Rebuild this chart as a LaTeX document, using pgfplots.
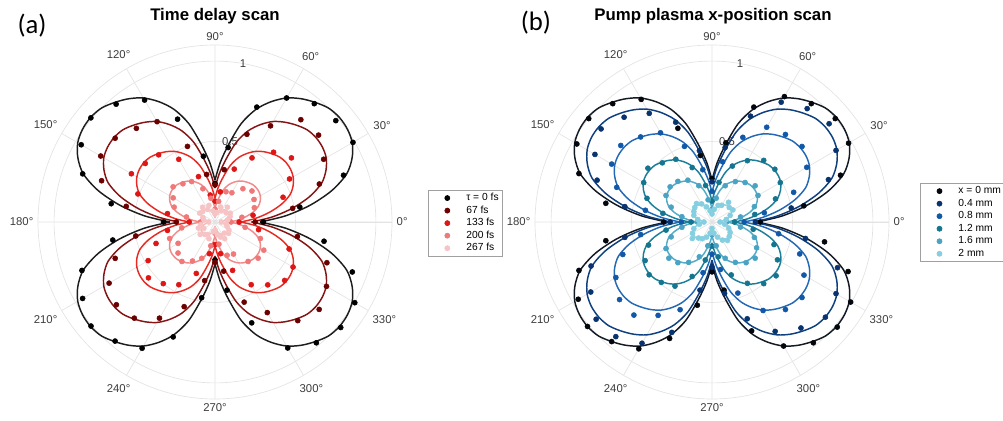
\documentclass[border=0pt]{standalone}
\usepackage{fontspec}
\setmainfont{Liberation Sans}
\newfontfamily\carlito{Carlito}
\usepackage{pgfplots}
\usepackage{pgfplotstable}
\pgfplotsset{compat=1.18}
\usepgfplotslibrary{polar}

\definecolor{gridc}{HTML}{E3E3E3}
\definecolor{tickc}{HTML}{3C3C3C}
\definecolor{legc}{HTML}{A0A0A0}
\definecolor{aK}{HTML}{000000}\definecolor{aKl}{HTML}{1E1E1E}
\definecolor{aD}{HTML}{6A0000}\definecolor{aDl}{HTML}{861414}
\definecolor{aR}{HTML}{E01515}\definecolor{aRl}{HTML}{E82A22}
\definecolor{aS}{HTML}{F07878}\definecolor{aSl}{HTML}{F28A8A}
\definecolor{aP}{HTML}{F7C4C6}\definecolor{aPl}{HTML}{F5B9BB}
\definecolor{bK}{HTML}{03060C}\definecolor{bKl}{HTML}{141A24}
\definecolor{bN}{HTML}{08336E}\definecolor{bNl}{HTML}{0E3F7E}
\definecolor{bM}{HTML}{1258A8}\definecolor{bMl}{HTML}{2469B6}
\definecolor{bT}{HTML}{15758F}\definecolor{bTl}{HTML}{1C7F99}
\definecolor{bL}{HTML}{4AA3C2}\definecolor{bLl}{HTML}{52ABC8}
\definecolor{bC}{HTML}{86CFE0}\definecolor{bCl}{HTML}{8ED3E3}

% fitted curves, one quadrant of angles per column p1..p4
\pgfplotstableread{
p1 p2 p3 p4 bk dr rd sa pk n4 n8 t12 t16 c2
0 180 180 360 0.280 0.227 0.160 0.092 0.028 0.255 0.199 0.140 0.092 0.039
5 175 185 355 0.440 0.356 0.251 0.145 0.044 0.400 0.312 0.220 0.145 0.062
10 170 190 350 0.600 0.486 0.342 0.198 0.060 0.546 0.426 0.300 0.198 0.084
15 165 195 345 0.750 0.608 0.428 0.248 0.075 0.683 0.533 0.375 0.248 0.105
20 160 200 340 0.870 0.705 0.496 0.287 0.087 0.792 0.618 0.435 0.287 0.122
25 155 205 335 0.940 0.761 0.536 0.310 0.094 0.855 0.667 0.470 0.310 0.132
30 150 210 330 0.985 0.798 0.561 0.325 0.099 0.896 0.699 0.493 0.325 0.138
35 145 215 325 1.005 0.814 0.573 0.332 0.101 0.915 0.714 0.503 0.332 0.141
40 140 220 320 1.010 0.818 0.576 0.333 0.101 0.919 0.717 0.505 0.333 0.141
45 135 225 315 1.000 0.810 0.570 0.330 0.100 0.910 0.710 0.500 0.330 0.140
50 130 230 310 0.970 0.786 0.553 0.320 0.097 0.883 0.689 0.485 0.320 0.136
55 125 235 305 0.935 0.757 0.533 0.309 0.094 0.851 0.664 0.468 0.309 0.131
60 120 240 300 0.890 0.721 0.507 0.294 0.089 0.810 0.632 0.445 0.294 0.125
65 115 245 295 0.825 0.668 0.470 0.272 0.083 0.751 0.586 0.413 0.272 0.116
70 110 250 290 0.745 0.603 0.425 0.246 0.075 0.678 0.529 0.373 0.246 0.104
75 105 255 285 0.635 0.514 0.362 0.210 0.064 0.578 0.451 0.318 0.210 0.089
80 100 260 280 0.490 0.397 0.279 0.162 0.049 0.446 0.348 0.245 0.162 0.069
85 95 265 275 0.370 0.300 0.211 0.122 0.037 0.337 0.263 0.185 0.122 0.052
90 90 270 270 0.260 0.211 0.148 0.086 0.026 0.237 0.185 0.130 0.086 0.036
}\curves

\pgfplotstableread{
th a0 a67 a133 a200 a267
0 0.300 0.25 0.15 0.10 0.04
10 0.535 0.49 0.24 0.17 0.08
20 0.850 0.69 0.45 0.26 0.10
30 0.990 0.78 0.535 0.28 0.11
40 0.980 0.84 0.62 0.30 0.09
50 0.960 0.83 0.566 0.27 0.12
60 0.890 0.69 0.46 0.21 0.08
70 0.760 0.58 0.35 0.20 0.10
80 0.470 0.33 0.19 0.13 0.06
90 0.240 0.23 0.13 0.08 0.05
100 0.415 0.30 0.17 0.15 0.07
110 0.680 0.50 0.30 0.22 0.11
120 0.875 0.72 0.45 0.29 0.09
130 0.956 0.76 0.545 0.31 0.12
140 1.007 0.81 0.566 0.34 0.10
150 0.960 0.82 0.60 0.30 0.11
160 0.875 0.75 0.51 0.27 0.08
170 0.655 0.56 0.30 0.18 0.07
180 0.320 0.24 0.16 0.09 0.04
190 0.645 0.50 0.30 0.21 0.09
200 0.880 0.66 0.39 0.30 0.11
210 0.950 0.76 0.48 0.265 0.08
220 1.006 0.80 0.54 0.30 0.12
230 0.966 0.78 0.50 0.32 0.10
240 0.906 0.69 0.45 0.28 0.09
250 0.760 0.56 0.34 0.24 0.11
260 0.478 0.37 0.20 0.15 0.06
270 0.235 0.25 0.14 0.07 0.05
280 0.430 0.31 0.20 0.14 0.08
290 0.667 0.53 0.32 0.22 0.10
300 0.904 0.65 0.45 0.23 0.12
310 0.980 0.80 0.51 0.32 0.09
320 1.020 0.845 0.565 0.35 0.11
330 1.003 0.80 0.56 0.35 0.10
340 0.908 0.74 0.49 0.30 0.08
350 0.688 0.52 0.275 0.19 0.07
}\dotsA

\pgfplotstableread{
th b0 b04 b08 b12 b16 b20
0 0.30 0.27 0.20 0.14 0.09 0.05
10 0.58 0.50 0.33 0.27 0.18 0.09
20 0.85 0.77 0.54 0.42 0.28 0.12
30 0.98 0.89 0.68 0.49 0.33 0.15
40 1.00 0.95 0.73 0.51 0.35 0.14
50 0.96 0.92 0.71 0.50 0.32 0.16
60 0.90 0.86 0.68 0.44 0.29 0.12
70 0.76 0.70 0.56 0.37 0.24 0.11
80 0.50 0.47 0.38 0.25 0.15 0.08
90 0.27 0.25 0.19 0.13 0.08 0.05
100 0.42 0.45 0.33 0.23 0.14 0.07
110 0.62 0.66 0.50 0.36 0.24 0.10
120 0.88 0.78 0.64 0.45 0.30 0.13
130 0.96 0.85 0.69 0.48 0.33 0.15
140 1.00 0.90 0.74 0.52 0.34 0.14
150 0.97 0.84 0.72 0.49 0.33 0.13
160 0.88 0.76 0.63 0.43 0.27 0.12
170 0.67 0.55 0.42 0.31 0.19 0.09
180 0.30 0.26 0.19 0.13 0.09 0.05
190 0.67 0.55 0.45 0.29 0.19 0.08
200 0.88 0.80 0.59 0.42 0.27 0.12
210 0.96 0.87 0.69 0.48 0.33 0.14
220 1.01 0.94 0.75 0.51 0.35 0.16
230 0.97 0.93 0.755 0.49 0.33 0.13
240 0.91 0.87 0.67 0.46 0.29 0.12
250 0.77 0.73 0.58 0.36 0.23 0.10
260 0.525 0.43 0.32 0.24 0.15 0.07
270 0.31 0.28 0.20 0.15 0.08 0.04
280 0.43 0.45 0.30 0.22 0.15 0.07
290 0.72 0.64 0.47 0.35 0.24 0.10
300 0.89 0.785 0.635 0.44 0.29 0.13
310 0.98 0.86 0.71 0.50 0.33 0.15
320 1.016 0.92 0.73 0.52 0.35 0.14
330 0.995 0.89 0.66 0.47 0.32 0.13
340 0.90 0.83 0.58 0.41 0.28 0.11
350 0.71 0.59 0.42 0.26 0.18 0.08
}\dotsB

\pgfplotsset{
  myaxis/.style={
    scale only axis, width=265.5pt, height=265.5pt,
    anchor=center,
    ymin=0, ymax=1.1,
    xtick={0,30,...,330},
    ytick={0.5,1},
    yticklabels={},
    grid=major,
    major grid style={draw=gridc, line width=0.5pt},
    axis line style={draw=gridc, line width=0.5pt},
    tick style={draw=none},
    /pgf/number format/assume math mode=true,
    xticklabel={\pgfmathprintnumber{\tick}°},
    xticklabel style={font=\fontsize{8.5}{10}\selectfont, text=tickc},
    legend cell align=left,
    legend style={anchor=north west, draw=legc, line width=0.5pt,
      font=\fontsize{7.7}{9.4}\selectfont, inner xsep=2pt, inner ysep=1.1pt,
      row sep=0pt, nodes={inner sep=1pt, text height=5.6pt, text depth=1.8pt}},
    legend image code/.code={\path (0pt,0pt) (25pt,0pt); \draw[##1] plot coordinates {(12pt,0pt)};},
  },
  crv/.style={smooth, line width=1.1pt, no markers, forget plot},
  dts/.style={only marks, mark=*, mark size=1.9pt},
}

\newcommand{\lobes}[2]{%
  \addplot[crv,#1] table[x=p1,y=#2]{\curves};
  \addplot[crv,#1] table[x=p2,y=#2]{\curves};
  \addplot[crv,#1] table[x=p3,y=#2]{\curves};
  \addplot[crv,#1] table[x=p4,y=#2]{\curves};}

\begin{document}
\begin{tikzpicture}
\useasboundingbox (0,0) rectangle (752.25pt,-315.75pt);

\begin{polaraxis}[myaxis, at={(161.25pt,-166.5pt)},
   legend style={at={(1.1017,0.5904)}}]
  \node[font=\fontsize{8.5}{10}\selectfont, text=tickc] at (axis cs:79.4,0.51) {0.5};
  \node[font=\fontsize{8.5}{10}\selectfont, text=tickc] at (axis cs:80,1.0) {1};
  \lobes{aKl}{bk}
  \addplot[dts, aK] table[x=th,y=a0]{\dotsA}; \addlegendentry{τ = 0 fs}
  \lobes{aDl}{dr}
  \addplot[dts, aD] table[x=th,y=a67]{\dotsA}; \addlegendentry{67 fs}
  \lobes{aRl}{rd}
  \addplot[dts, aR] table[x=th,y=a133]{\dotsA}; \addlegendentry{133 fs}
  \lobes{aSl}{sa}
  \addplot[dts, aS] table[x=th,y=a200]{\dotsA}; \addlegendentry{200 fs}
  \lobes{aPl}{pk}
  \addplot[dts, aP] table[x=th,y=a267]{\dotsA}; \addlegendentry{267 fs}
\end{polaraxis}

\begin{polaraxis}[myaxis, at={(534pt,-166.5pt)},
   legend style={at={(1.088,0.61)}}]
  \node[font=\fontsize{8.5}{10}\selectfont, text=tickc] at (axis cs:79.4,0.51) {0.5};
  \node[font=\fontsize{8.5}{10}\selectfont, text=tickc] at (axis cs:80,1.0) {1};
  \lobes{bKl}{bk}
  \addplot[dts, bK] table[x=th,y=b0]{\dotsB}; \addlegendentry{x = 0 mm}
  \lobes{bNl}{n4}
  \addplot[dts, bN] table[x=th,y=b04]{\dotsB}; \addlegendentry{0.4 mm}
  \lobes{bMl}{n8}
  \addplot[dts, bM] table[x=th,y=b08]{\dotsB}; \addlegendentry{0.8 mm}
  \lobes{bTl}{t12}
  \addplot[dts, bT] table[x=th,y=b12]{\dotsB}; \addlegendentry{1.2 mm}
  \lobes{bLl}{t16}
  \addplot[dts, bL] table[x=th,y=b16]{\dotsB}; \addlegendentry{1.6 mm}
  \lobes{bCl}{c2}
  \addplot[dts, bC] table[x=th,y=b20]{\dotsB}; \addlegendentry{2 mm}
\end{polaraxis}

\node[font=\bfseries\fontsize{12.6}{14}\selectfont, anchor=base] at (161.25pt,-15.75pt) {Time delay scan};
\node[font=\bfseries\fontsize{12.6}{14}\selectfont, anchor=base] at (534.75pt,-15.75pt) {Pump plasma x-position scan};
\node[font=\carlito\fontsize{20}{24}\selectfont] at (24pt,-19.5pt) {(a)};
\node[font=\carlito\fontsize{20}{24}\selectfont] at (402pt,-17.25pt) {(b)};
\end{tikzpicture}
\end{document}
